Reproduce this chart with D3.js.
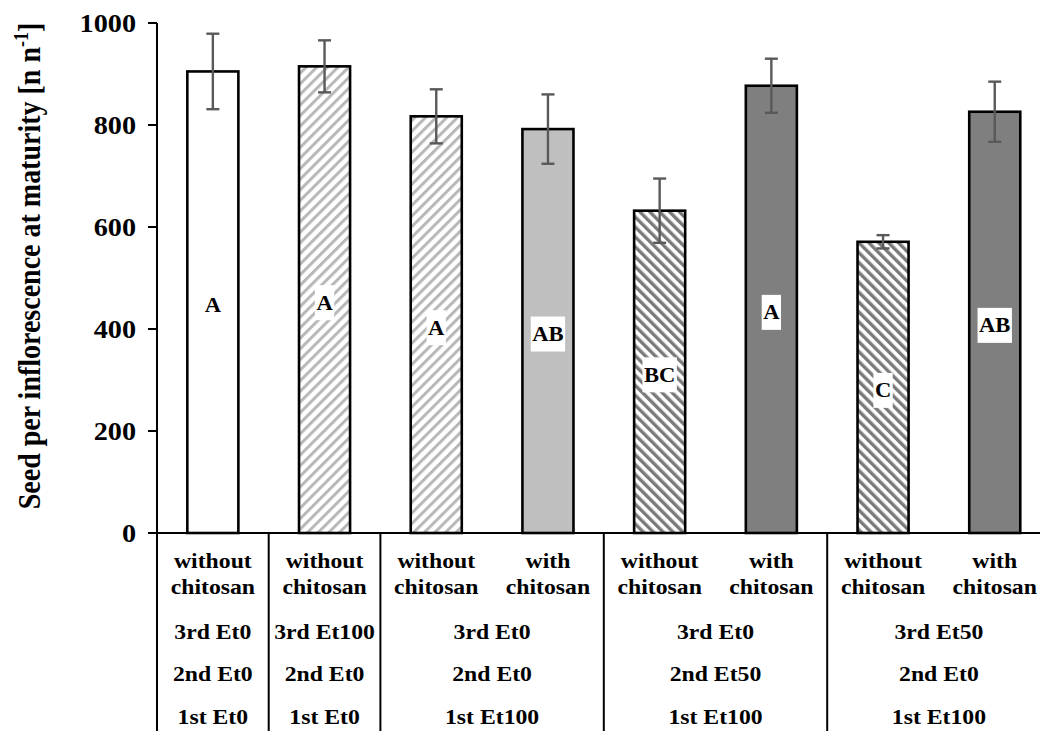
<!DOCTYPE html>
<html>
<head>
<meta charset="utf-8">
<script src="https://cdn.jsdelivr.net/npm/d3@7"></script>
<style>
  html, body { margin: 0; padding: 0; background: #fff; }
  svg { display: block; }
  text { font-family: "Liberation Serif", "Times New Roman", serif; font-weight: bold; fill: #000; }
</style>
</head>
<body>
<svg id="chart" width="1040" height="731"></svg>
<script>
// Seed counts per inflorescence for each treatment (mean ± error)
const values  = [905, 915, 817, 792, 632, 877, 571, 826];
const errors  = [74, 51, 53, 68, 63, 53, 13, 59];
const letters = ["A", "A", "A", "AB", "BC", "A", "C", "AB"];

// Chitosan treatment for each bar (two text lines)
const chitosanLine1 = ["without", "without", "without", "with", "without", "with", "without", "with"];
const chitosanLine2 = ["chitosan", "chitosan", "chitosan", "chitosan", "chitosan", "chitosan", "chitosan", "chitosan"];

// Ethylene treatment groups: first and last bar index of each group
const groupStart = [0, 1, 2, 4, 6];
const groupEnd   = [0, 1, 3, 5, 7];
const thirdLabels  = ["3rd Et0", "3rd Et100", "3rd Et0", "3rd Et0", "3rd Et50"];
const secondLabels = ["2nd Et0", "2nd Et0", "2nd Et0", "2nd Et50", "2nd Et0"];
const firstLabels  = ["1st Et0", "1st Et0", "1st Et100", "1st Et100", "1st Et100"];

const yTicks = [0, 200, 400, 600, 800, 1000];
const yTitle = "Seed per inflorescence at maturity [n n";

// Fill style for each bar
const fillStyle = ["#ffffff", "url(#hatchLight)", "url(#hatchLight)", "#bfbfbf",
                   "url(#hatchDark)", "#7f7f7f", "url(#hatchDark)", "#7f7f7f"];

const svg = d3.select("#chart");
const SX = 1.13; // wide glyph proportion used by the figure's font

const axisX = 157, zeroY = 533;
const x = d3.scaleBand()
  .domain(d3.range(values.length))
  .range([axisX, axisX + 8 * 111.7])
  .paddingInner(0.543)
  .paddingOuter(0.2715);
const y = d3.scaleLinear().domain([0, 1000]).range([zeroY, 23]);

// Hatch patterns
const defs = svg.append("defs");
function hatch(id, angle, w, sw, color) {
  const p = defs.append("pattern")
    .attr("id", id)
    .attr("patternUnits", "userSpaceOnUse")
    .attr("width", w).attr("height", w)
    .attr("patternTransform", `rotate(${angle})`);
  p.append("rect").attr("width", w).attr("height", w).attr("fill", "#fff");
  p.append("rect").attr("x", 0).attr("y", 0).attr("width", sw).attr("height", w).attr("fill", color);
}
hatch("hatchLight", 45, 7.5, 3, "#b8b8b8");
hatch("hatchDark", -45, 7, 3.4, "#7a7a7a");

// Bars
svg.append("g").selectAll("rect")
  .data(values)
  .join("rect")
  .attr("x", (d, i) => x(i))
  .attr("y", d => y(d))
  .attr("width", x.bandwidth())
  .attr("height", d => y(0) - y(d))
  .attr("fill", (d, i) => fillStyle[i])
  .attr("stroke", "#000")
  .attr("stroke-width", 2.6);

// Error bars
const eb = svg.append("g").attr("stroke", "#595959").attr("stroke-width", 2.4);
values.forEach((v, i) => {
  const cx = x(i) + x.bandwidth() / 2;
  const top = y(v + errors[i]), bot = y(v - errors[i]);
  eb.append("line").attr("x1", cx).attr("x2", cx).attr("y1", top).attr("y2", bot);
  eb.append("line").attr("x1", cx - 6.5).attr("x2", cx + 6.5).attr("y1", top).attr("y2", top);
  eb.append("line").attr("x1", cx - 6.5).attr("x2", cx + 6.5).attr("y1", bot).attr("y2", bot);
});

// Significance letters centred in each bar
const lab = svg.append("g");
values.forEach((v, i) => {
  const cx = x(i) + x.bandwidth() / 2;
  const cy = (y(0) + y(v)) / 2 + 3;
  const g = lab.append("g").attr("transform", `translate(${cx},${cy})`);
  const t = g.append("text")
    .attr("transform", `scale(${SX},1)`)
    .attr("text-anchor", "middle")
    .attr("dy", "0.35em")
    .attr("font-size", 20)
    .text(letters[i]);
  const w = t.node().getComputedTextLength() * SX + 3;
  g.insert("rect", "text")
    .attr("x", -w / 2).attr("y", -17.5)
    .attr("width", w).attr("height", 35)
    .attr("fill", "#fff");
});

// Y axis
const yAxis = svg.append("g");
yAxis.append("line")
  .attr("x1", axisX).attr("x2", axisX)
  .attr("y1", y(1000)).attr("y2", 731)
  .attr("stroke", "#000").attr("stroke-width", 2);
yAxis.selectAll("line.tick")
  .data(yTicks)
  .join("line")
  .attr("class", "tick")
  .attr("x1", axisX - 9).attr("x2", axisX)
  .attr("y1", d => y(d)).attr("y2", d => y(d))
  .attr("stroke", "#000").attr("stroke-width", 2);
yAxis.selectAll("text")
  .data(yTicks)
  .join("text")
  .attr("transform", d => `translate(${axisX - 21},${y(d)}) scale(${SX},1)`)
  .attr("text-anchor", "end")
  .attr("dy", "0.35em")
  .attr("font-size", 25)
  .text(d => d);

// Y axis title with superscript
const title = svg.append("text")
  .attr("transform", `translate(40,266) scale(${SX},1) rotate(-90)`)
  .attr("text-anchor", "middle")
  .attr("font-size", 28);
title.append("tspan").text(yTitle);
title.append("tspan").attr("font-size", 18).attr("dy", -11).text("-1");
title.append("tspan").attr("dy", 11).text("]");

// X axis baseline
svg.append("line")
  .attr("x1", axisX).attr("x2", 1040)
  .attr("y1", zeroY).attr("y2", zeroY)
  .attr("stroke", "#000").attr("stroke-width", 2);

// Treatment table below the axis
const table = svg.append("g");
groupStart.forEach((s, gi) => {
  if (gi > 0) {
    table.append("line")
      .attr("x1", x.step() * s + axisX).attr("x2", x.step() * s + axisX)
      .attr("y1", zeroY).attr("y2", 731)
      .attr("stroke", "#000").attr("stroke-width", 2);
  }
});

function cell(cx, cy, str) {
  table.append("text")
    .attr("transform", `translate(${cx},${cy}) scale(${SX},1)`)
    .attr("text-anchor", "middle")
    .attr("font-size", 21)
    .text(str);
}

values.forEach((v, i) => {
  const cx = x(i) + x.bandwidth() / 2;
  cell(cx, 568, chitosanLine1[i]);
  cell(cx, 594, chitosanLine2[i]);
});
groupStart.forEach((s, gi) => {
  const e = groupEnd[gi];
  const cx = (x(s) + x(e) + x.bandwidth()) / 2;
  cell(cx, 639, thirdLabels[gi]);
  cell(cx, 681, secondLabels[gi]);
  cell(cx, 724, firstLabels[gi]);
});
</script>
</body>
</html>
